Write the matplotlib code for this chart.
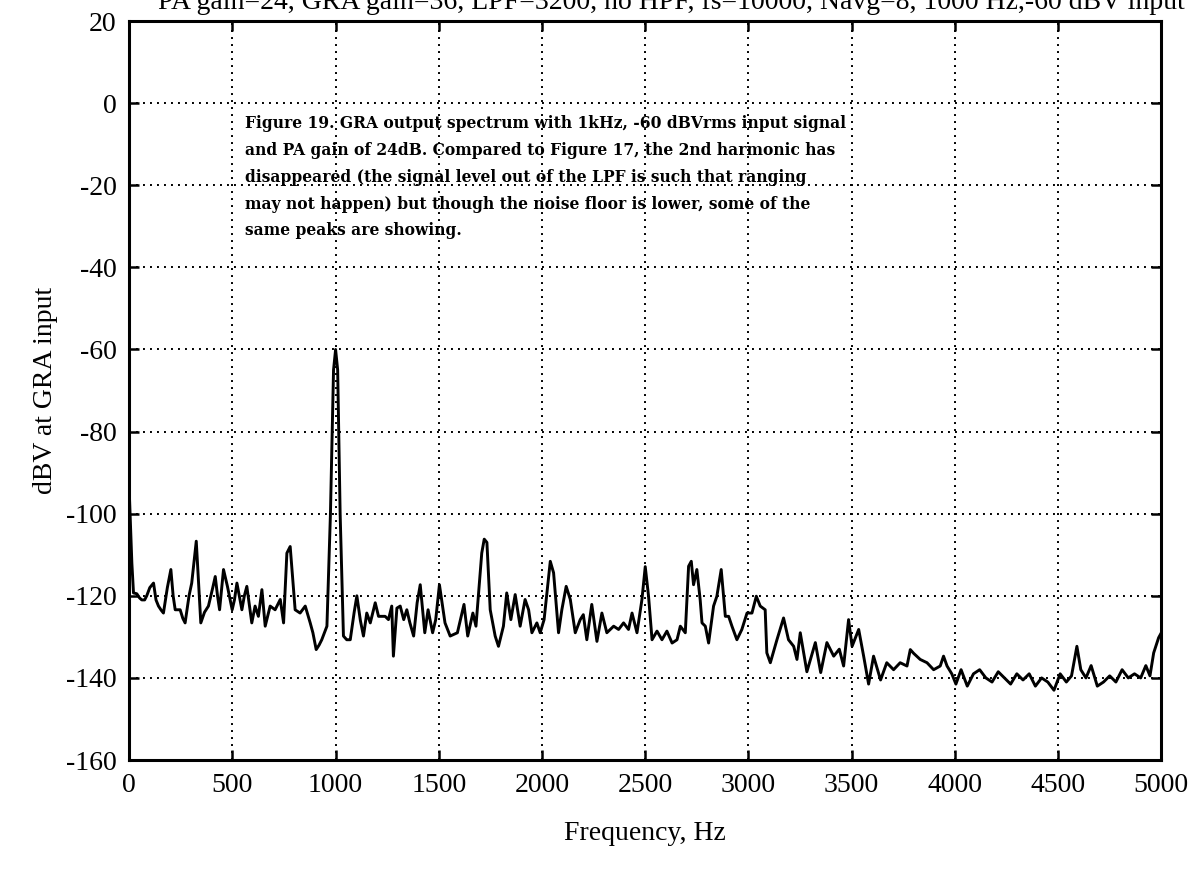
import matplotlib
matplotlib.use("Agg")
import matplotlib.pyplot as plt

plt.rcParams["axes.unicode_minus"] = False

freq_hz = [0, 13, 21, 37, 50, 61, 75, 85, 100, 118, 130, 142, 155, 166, 185, 202, 213, 223, 247, 260,
           271, 290, 303, 325, 347, 365, 384, 405, 417, 428, 438, 457, 476, 499, 510, 522, 546, 558, 570, 594,
           610, 626, 643, 659, 683, 707, 732, 748, 764, 780, 804, 828, 853, 877, 890, 906, 920, 933, 958, 975,
           990, 1000, 1010, 1022, 1038, 1054, 1071, 1090, 1103, 1120, 1135, 1151, 1168, 1192, 1208, 1225, 1240, 1256, 1272, 1280,
           1297, 1313, 1330, 1345, 1360, 1378, 1395, 1410, 1432, 1448, 1470, 1485, 1503, 1530, 1555, 1590, 1622, 1640, 1665, 1680,
           1708, 1720, 1733, 1749, 1773, 1789, 1813, 1829, 1849, 1870, 1894, 1918, 1935, 1951, 1975, 1991, 2010, 2040, 2056, 2080,
           2096, 2117, 2137, 2161, 2185, 2200, 2217, 2241, 2266, 2290, 2314, 2347, 2371, 2395, 2419, 2436, 2460, 2484, 2500, 2516,
           2533, 2557, 2581, 2605, 2630, 2654, 2670, 2694, 2710, 2723, 2734, 2750, 2766, 2775, 2791, 2807, 2831, 2847, 2868, 2888,
           2904, 2920, 2944, 2968, 2993, 3017, 3038, 3057, 3081, 3089, 3106, 3138, 3170, 3194, 3219, 3235, 3251, 3283, 3324, 3350,
           3380, 3413, 3440, 3461, 3485, 3502, 3534, 3558, 3582, 3606, 3640, 3670, 3703, 3735, 3768, 3784, 3800, 3832, 3865, 3897,
           3929, 3945, 3962, 3985, 4005, 4030, 4060, 4090, 4120, 4150, 4180, 4210, 4240, 4270, 4300, 4330, 4360, 4390, 4420, 4450,
           4480, 4510, 4540, 4565, 4591, 4610, 4635, 4660, 4690, 4720, 4750, 4780, 4810, 4840, 4870, 4900, 4925, 4945, 4963, 4987,
           5000]

level_dbv = [-94, -112, -119.3, -119.5, -120.5, -121, -121, -120, -118, -116.9, -121, -122.5, -123.5, -124.2, -118, -113.6, -120, -123.4, -123.4, -125.5,
             -126.6, -120, -116.9, -106.7, -126.6, -124, -122.5, -118, -115.3, -120, -123.4, -113.6, -117.7, -123.4, -121, -116.9, -123.4, -120, -117.7, -126.6,
             -122.5, -125.0, -118.5, -127.4, -122.5, -123.4, -120.9, -126.6, -109.6, -108.0, -123.4, -124.2, -122.5, -126.6, -129, -133.1, -132, -130.7, -127.4, -100,
             -65, -60, -65, -100, -129.8, -130.7, -130.7, -124, -120, -126, -129.8, -124.2, -126.6, -121.7, -125.0, -125, -125.0, -125.8, -122.5, -134.7,
             -123, -122.5, -125.8, -123.4, -126.6, -129.8, -121.7, -117.3, -129, -123.4, -129, -125.8, -117.3, -126.6, -129.8, -129, -122.1, -129.8, -124.2, -127.4,
             -109.6, -106.2, -107, -123.4, -129.8, -132.3, -127.4, -119.3, -125.8, -119.7, -127.4, -120.9, -123.4, -129, -126.6, -129, -125.8, -111.6, -114.4, -129,
             -123.4, -117.7, -120.9, -129, -125.8, -124.6, -130.7, -122.1, -131.1, -124.2, -129, -127.4, -128.2, -126.6, -128.2, -124.2, -129, -120.9, -112.9, -120.1,
             -130.7, -128.6, -130.7, -128.6, -131.5, -130.7, -127.4, -129, -112.8, -111.6, -117.3, -113.6, -120.9, -126.6, -127.4, -131.5, -122.5, -120.1, -113.6, -125.0,
             -125.0, -127.4, -130.7, -128.2, -124.2, -124.2, -120.1, -122.5, -123.4, -133.9, -136.3, -130.7, -125.4, -130.7, -132.3, -135.5, -129.0, -138.5, -131.4, -138.7,
             -131.4, -134.7, -133, -137.1, -125.8, -132.3, -128.2, -134.7, -141.5, -134.7, -140.5, -136.3, -138.0, -136.3, -137.1, -133.1, -134, -135.5, -136.3, -138,
             -137.1, -134.7, -137.1, -139, -141.5, -138, -142, -139, -138, -140, -141, -138.5, -140, -141.5, -139, -140.5, -139, -142, -140, -141,
             -143, -139, -141, -139.5, -132.3, -138, -140, -137, -142, -141, -139.5, -141, -138, -140, -139, -140, -137, -139.5, -133.9, -130.2,
             -129]

x_ticks = [0, 500, 1000, 1500, 2000, 2500, 3000, 3500, 4000, 4500, 5000]
y_ticks = [-160, -140, -120, -100, -80, -60, -40, -20, 0, 20]

title_text = "PA gain=24, GRA gain=36, LPF=3200, no HPF, fs=10000, Navg=8, 1000 Hz,-60 dBV input"
note_lines = [
    "Figure 19. GRA output spectrum with 1kHz, -60 dBVrms input signal",
    "and PA gain of 24dB. Compared to Figure 17, the 2nd harmonic has",
    "disappeared (the signal level out of the LPF is such that ranging",
    "may not happen) but though the noise floor is lower, some of the",
    "same peaks are showing.",
]

serif = ["Liberation Serif", "DejaVu Serif"]

fig = plt.figure(figsize=(11.96, 8.69), dpi=100)
ax = fig.add_axes([0.108, 0.1254, 0.863, 0.8504])

ax.plot(freq_hz, level_dbv, color="black", lw=2.1, solid_joinstyle="round")

ax.set_xlim(0, 5000)
ax.set_ylim(-160, 20)
ax.set_xticks(x_ticks)
ax.set_yticks(y_ticks)
ax.grid(True, color="black", lw=1.4, linestyle=(0, (1, 2.6)))
for s in ax.spines.values():
    s.set_linewidth(2.2)
ax.tick_params(direction="in", length=7, width=1.8, top=True, right=True,
               labelsize=20, pad=9)
for lab in ax.get_xticklabels() + ax.get_yticklabels():
    lab.set_family(serif)

ax.set_xlabel("Frequency, Hz", family=serif, fontsize=20, labelpad=17)
ax.set_ylabel("dBV at GRA input", family=serif, fontsize=20, labelpad=6)

fig.text(1185 / 1196, 1 - 9 / 869, title_text, ha="right", va="baseline",
         family=serif, fontsize=20)

ax.text(560, -3, "\n".join(note_lines), ha="left", va="top",
        family=["DejaVu Serif"], fontweight="bold", fontsize=11.2,
        linespacing=1.75)

fig.savefig("out.png", dpi=100)
